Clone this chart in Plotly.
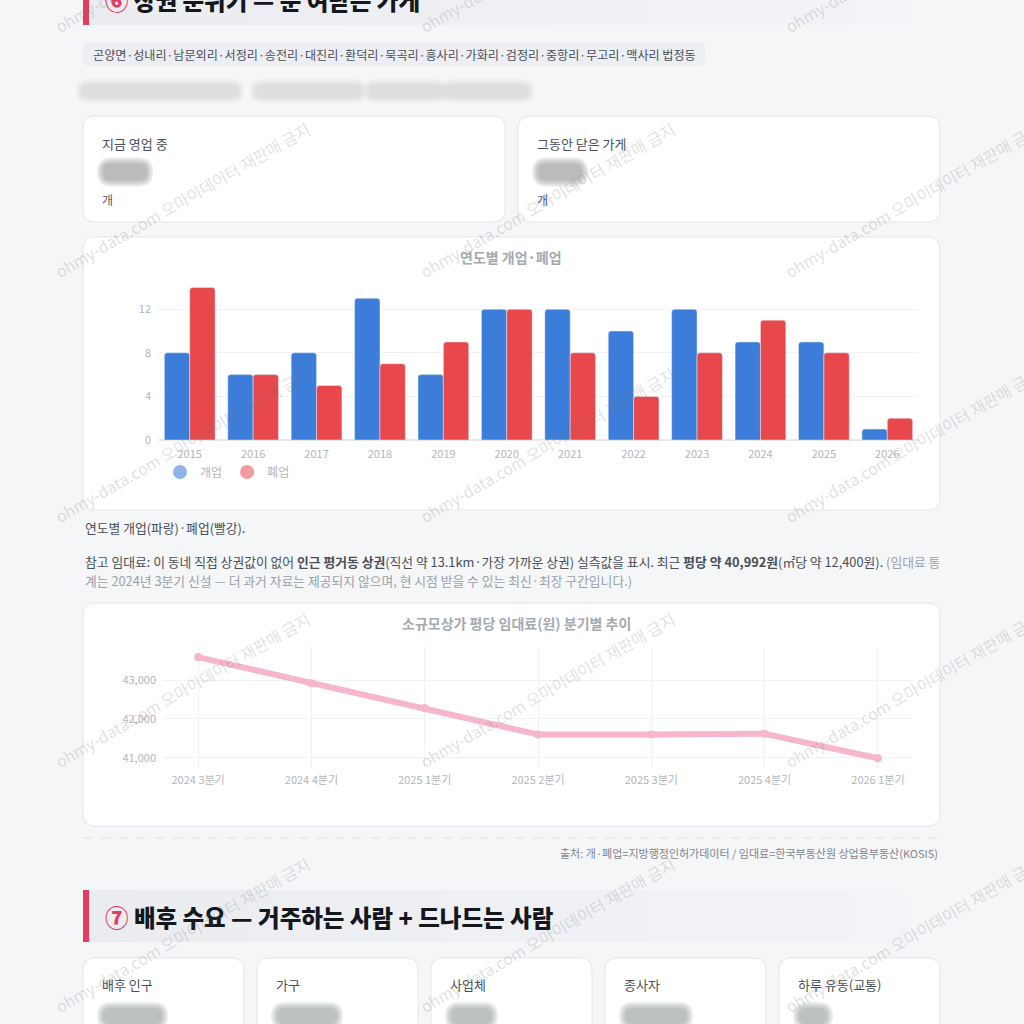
import plotly.graph_objects as go

# ---------------- data ----------------
years = ["2015", "2016", "2017", "2018", "2019", "2020", "2021", "2022", "2023", "2024", "2025", "2026"]
opened = [8, 6, 8, 13, 6, 12, 12, 10, 12, 9, 9, 1]
closed = [14, 6, 5, 7, 9, 12, 8, 4, 8, 11, 8, 2]
bar_yticks = [0, 4, 8, 12]

quarters = ["2024 3분기", "2024 4분기", "2025 1분기", "2025 2분기", "2025 3분기", "2025 4분기", "2026 1분기"]
rent = [43590, 42920, 42280, 41600, 41600, 41620, 40992]
rent_yticks = [41000, 42000, 43000]

kpi_labels_top = ["지금 영업 중", "그동안 닫은 가게"]
kpi_labels_bottom = ["배후 인구", "가구", "사업체", "종사자", "하루 유동(교통)"]

# ---------------- helpers (pixel -> paper) ----------------
W = 1024.0
def X(x): return x / W
def Y(y): return 1 - y / W

FONT = "Noto Sans CJK KR, Noto Sans, sans-serif"
BG = "#f5f6f8"
ACCENT = "#e63b60"
BLUE = "#3b7dd8"
RED = "#e8474c"
FAINT = "#b3b6bb"

shapes = []
annotations = []

def rrect(x0, y0, x1, y1, r, fill, line=None, lw=1, layer="below"):
    p = (f"M {X(x0+r)},{Y(y0)} L {X(x1-r)},{Y(y0)} Q {X(x1)},{Y(y0)} {X(x1)},{Y(y0+r)} "
         f"L {X(x1)},{Y(y1-r)} Q {X(x1)},{Y(y1)} {X(x1-r)},{Y(y1)} "
         f"L {X(x0+r)},{Y(y1)} Q {X(x0)},{Y(y1)} {X(x0)},{Y(y1-r)} "
         f"L {X(x0)},{Y(y0+r)} Q {X(x0)},{Y(y0)} {X(x0+r)},{Y(y0)} Z")
    shapes.append(dict(type="path", path=p, xref="paper", yref="paper", fillcolor=fill,
                       line=dict(color=line if line else "rgba(0,0,0,0)", width=lw if line else 0),
                       layer=layer))

def rect(x0, y0, x1, y1, fill, layer="below"):
    shapes.append(dict(type="rect", xref="paper", yref="paper", x0=X(x0), x1=X(x1), y0=Y(y1), y1=Y(y0),
                       fillcolor=fill, line=dict(width=0), layer=layer))

def blob(x0, x1, yc, h, rgb="140,143,150", a=0.10):
    for g in (7, 5, 3, 1):
        rrect(x0 - g, yc - h / 2 - g, x1 + g, yc + h / 2 + g, h / 2 + g, f"rgba({rgb},{a})", layer="above")

def text(x, y, s, size=13, color="#444", xanchor="left", yanchor="middle", angle=0, bold=False, weight=None):
    f = dict(family=FONT, size=size, color=color)
    if weight:
        f["weight"] = weight
    annotations.append(dict(x=X(x), y=Y(y), xref="paper", yref="paper", text=(f"<b>{s}</b>" if bold else s),
                            showarrow=False, xanchor=xanchor, yanchor=yanchor, textangle=angle, font=f))

def band(y0, y1):
    n = 60
    x_start, x_end = 89, 905
    c0, c1 = (234, 236, 240), (243, 244, 247)
    for i in range(n):
        t = i / (n - 1)
        c = tuple(int(round(c0[k] + (c1[k] - c0[k]) * t)) for k in range(3))
        xa = x_start + (x_end - x_start) * i / n
        xb = x_start + (x_end - x_start) * (i + 1) / n + 0.5
        rect(xa, y0, xb, y1, f"rgb{c}")
    rect(83, y0, 89, y1, ACCENT)

# ---------------- section 6 header ----------------
band(-12, 25)
text(103, 0, f"<span style='color:{ACCENT}'>⑥</span> 상권 분위기 — 문 여닫은 가게", size=23.5, color="#14171c", weight=900)

# chip with place names
rrect(83, 42, 705, 66, 6, "#eceef3")
text(91, 54, "곤양면·성내리·남문외리·서정리·송전리·대진리·환덕리·묵곡리·흥사리·가화리·검정리·중항리·무고리·맥사리 법정동",
     size=12.1, color="#4a4f57")

# blurred sub line
for a, b in [(83, 237), (257, 360), (370, 440), (447, 527)]:
    blob(a, b, 91, 10, rgb="150,152,158", a=0.07)

# KPI cards
rrect(83, 116, 505, 222, 12, "#ffffff", "#e3e6eb")
rrect(518, 116, 940, 222, 12, "#ffffff", "#e3e6eb")
for i, lab in enumerate(kpi_labels_top):
    x0 = 100 if i == 0 else 535
    text(x0, 143, lab, size=13, color="#4a4f57")
    text(x0, 199, "개", size=12, color="#55595f")
    blob(x0 + 4, x0 + 46, 172, 15, rgb="115,117,123", a=0.15)

# bar chart card
rrect(83, 237, 940, 510, 12, "#ffffff", "#e3e6eb")
text(511, 257, "연도별 개업·폐업", size=14, color="#a6a9ae", xanchor="center", bold=True)

# captions
text(83, 527, "연도별 개업(파랑)·폐업(빨강).", size=12.8, color="#4a4f57")
text(83, 561, "참고 임대료: 이 동네 직접 상권값이 없어 <b>인근 평거동 상권</b>(직선 약 13.1km·가장 가까운 상권) 실측값을 표시. "
     "최근 <b>평당 약 40,992원</b>(㎡당 약 12,400원). <span style='color:#9aa0a8'>(임대료 통</span>",
     size=12.8, color="#4a4f57")
text(83, 580, "계는 2024년 3분기 신설 — 더 과거 자료는 제공되지 않으며, 현 시점 받을 수 있는 최신·최장 구간입니다.)",
     size=12.8, color="#9aa0a8")

# line chart card
rrect(83, 603, 940, 826, 12, "#ffffff", "#e3e6eb")
text(516, 623, "소규모상가 평당 임대료(원) 분기별 추이", size=14, color="#a6a9ae", xanchor="center", bold=True)

# divider + source
shapes.append(dict(type="line", xref="paper", yref="paper", x0=X(83), x1=X(940), y0=Y(838), y1=Y(838),
                   line=dict(color="#dde0e5", width=1, dash="dash"), layer="below"))
text(940, 853, "출처: 개·폐업=지방행정인허가데이터 / 임대료=한국부동산원 상업용부동산(KOSIS)",
     size=11, color="#80858c", xanchor="right")

# ---------------- section 7 header ----------------
band(890, 942)
text(103, 917, f"<span style='color:{ACCENT}'>⑦</span> 배후 수요 — 거주하는 사람 + 드나드는 사람", size=23.5,
     color="#14171c", weight=900)

card_x = [83, 257, 431, 605, 779]
blob_w = [65, 66, 47, 68, 34]
for cx, lab, bw in zip(card_x, kpi_labels_bottom, blob_w):
    rrect(cx, 958, cx + 161, 1040, 12, "#ffffff", "#e3e6eb")
    text(cx + 17, 984, lab, size=13, color="#4a4f57")
    blob(cx + 21, cx + 17 + bw - 4, 1016, 14, rgb="115,117,123", a=0.14)

# ---------------- watermarks ----------------
for cy in (-45, 200, 445, 690, 935):
    for cx in (182, 547, 912):
        annotations.append(dict(x=X(cx), y=Y(cy), xref="paper", yref="paper",
                                text="ohmy-data.com 오마이데이터 재판매 금지", showarrow=False,
                                xanchor="center", yanchor="middle", textangle=-30,
                                font=dict(family=FONT, size=16, color="rgba(110,112,118,0.22)")))

# ---------------- traces ----------------
fig = go.Figure()
fig.add_trace(go.Bar(x=years, y=opened, name="개업", marker=dict(color=BLUE, cornerradius=3),
                     showlegend=False, xaxis="x", yaxis="y"))
fig.add_trace(go.Bar(x=years, y=closed, name="폐업", marker=dict(color=RED, cornerradius=3),
                     showlegend=False, xaxis="x", yaxis="y"))
# legend entries (circle style)
fig.add_trace(go.Scatter(x=[None], y=[None], mode="markers", name="개업",
                         marker=dict(color="#8fb4ea", size=14, symbol="circle"), xaxis="x", yaxis="y"))
fig.add_trace(go.Scatter(x=[None], y=[None], mode="markers", name="폐업",
                         marker=dict(color="#f29a9d", size=14, symbol="circle"), xaxis="x", yaxis="y"))

fig.add_trace(go.Scatter(x=quarters, y=rent, mode="lines+markers", name="임대료", showlegend=False,
                         line=dict(color="#f5b7c9", width=6), marker=dict(color="#f5b7c9", size=8),
                         xaxis="x2", yaxis="y2"))

grid = "#f1f2f4"
fig.update_layout(
    width=1024, height=1024, autosize=False,
    margin=dict(l=0, r=0, t=0, b=0, pad=0),
    paper_bgcolor=BG, plot_bgcolor="rgba(0,0,0,0)",
    font=dict(family=FONT, color="#444"),
    barmode="group", bargap=0.2, bargroupgap=0.0,
    xaxis=dict(domain=[X(158), X(919)], anchor="y", showgrid=False, showline=False, zeroline=False,
               tickfont=dict(size=11, color=FAINT), ticks="", ticklabelstandoff=6, automargin=False),
    yaxis=dict(domain=[Y(440), Y(276)], anchor="x", range=[0, 15.05], tickvals=bar_yticks,
               showgrid=True, gridcolor=grid, zeroline=True, zerolinecolor="#e9eaed",
               tickfont=dict(size=11, color=FAINT), ticks="", ticklabelstandoff=6, automargin=False),
    xaxis2=dict(domain=[X(163), X(913)], anchor="y2", range=[-0.31, 6.31], showgrid=True, gridcolor=grid,
                showline=False, zeroline=False, tickfont=dict(size=11, color=FAINT), ticks="",
                ticklabelstandoff=4, automargin=False),
    yaxis2=dict(domain=[Y(768), Y(647)], anchor="x2", range=[40740, 43850], tickvals=rent_yticks,
                tickformat=",", showgrid=True, gridcolor=grid, zeroline=False,
                tickfont=dict(size=11, color=FAINT), ticks="", ticklabelstandoff=6, automargin=False),
    legend=dict(orientation="h", x=X(160), y=Y(472), xanchor="left", yanchor="middle",
                bgcolor="rgba(0,0,0,0)", font=dict(size=12, color=FAINT), itemclick=False),
    shapes=shapes,
    annotations=annotations,
)

fig.write_html("out.html", config={"displayModeBar": False, "responsive": False},
               post_script="document.body.style.margin='0';")
